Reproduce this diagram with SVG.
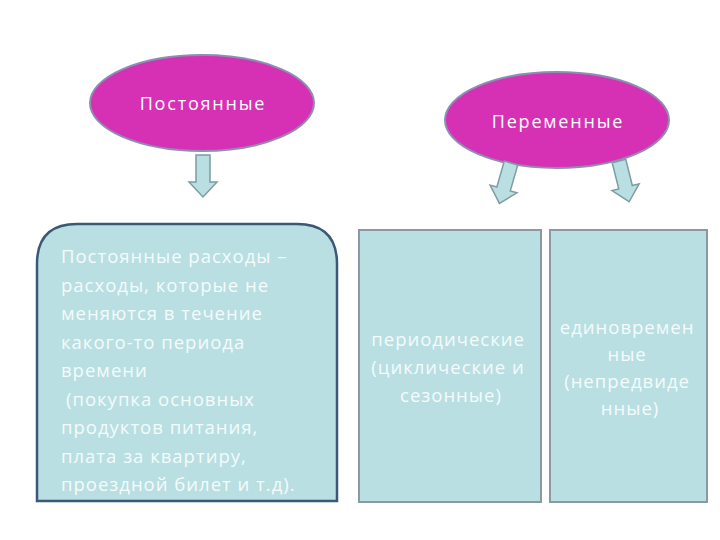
<svg xmlns="http://www.w3.org/2000/svg" width="720" height="540" viewBox="0 0 720 540">
<defs>
<style>
.oval{fill:#d631b5;stroke:#8c8fb3;stroke-width:2}
.otext{font-family:"Open Sans","DejaVu Sans",sans-serif;font-size:18px;letter-spacing:1.8px;fill:#ffffff;text-anchor:middle}
.box{fill:#b9dfe3}
.btext{font-family:"Open Sans","DejaVu Sans",sans-serif;font-size:18.5px;letter-spacing:1px;fill:#f4fbfb}
.arrow{fill:#b9dfe3;stroke:#7f9ca3;stroke-width:1.5}
</style>
<polygon id="blk" points="-7,0 7,0 7,27 14,27 0,42 -14,27 -7,27"/>
</defs>
<rect width="720" height="540" fill="#ffffff"/>
<g id="node-postoyannye">
<ellipse class="oval" cx="202" cy="103" rx="112" ry="48"/>
<text class="otext" x="203" y="110">Постоянные</text>
</g>
<g id="node-peremennye">
<ellipse class="oval" cx="557" cy="120" rx="112" ry="48"/>
<text class="otext" x="558" y="128">Переменные</text>
</g>
<g id="connectors">
<use href="#blk" class="arrow" transform="translate(203,155)"/>
<use href="#blk" class="arrow" transform="translate(511,163) rotate(16)"/>
<use href="#blk" class="arrow" transform="translate(619,161) rotate(-14)"/>
</g>
<g id="node-fixed">
<path class="box" d="M37,501 L37,264 Q37,224 77,224 L297,224 Q337,224 337,264 L337,501 Z" stroke="#3b5878" stroke-width="2.5"/>
<text class="btext" x="61">
<tspan x="61" y="263">Постоянные расходы –</tspan>
<tspan x="61" y="291.5">расходы, которые не</tspan>
<tspan x="61" y="320">меняются в течение</tspan>
<tspan x="61" y="348.5">какого-то периода</tspan>
<tspan x="61" y="377">времени</tspan>
<tspan x="66" y="405.5">(покупка основных</tspan>
<tspan x="61" y="434">продуктов питания,</tspan>
<tspan x="61" y="462.5">плата за квартиру,</tspan>
<tspan x="61" y="491">проездной билет и т.д).</tspan>
</text>
</g>
<g id="node-periodic">
<rect class="box" x="359" y="230" width="182" height="272" stroke="#8a9a9e" stroke-width="2"/>
<text class="btext" text-anchor="middle">
<tspan x="451" y="346">периодические</tspan>
<tspan x="451" y="374">(циклические и</tspan>
<tspan x="451" y="402">сезонные)</tspan>
</text>
</g>
<g id="node-oneoff">
<rect class="box" x="550" y="230" width="157" height="272" stroke="#8a9a9e" stroke-width="2"/>
<text class="btext" text-anchor="middle">
<tspan x="630" y="334">единовремен</tspan>
<tspan x="630" y="361">ные</tspan>
<tspan x="630" y="388">(непредвиде</tspan>
<tspan x="630" y="415">нные)</tspan>
</text>
</g>
</svg>
